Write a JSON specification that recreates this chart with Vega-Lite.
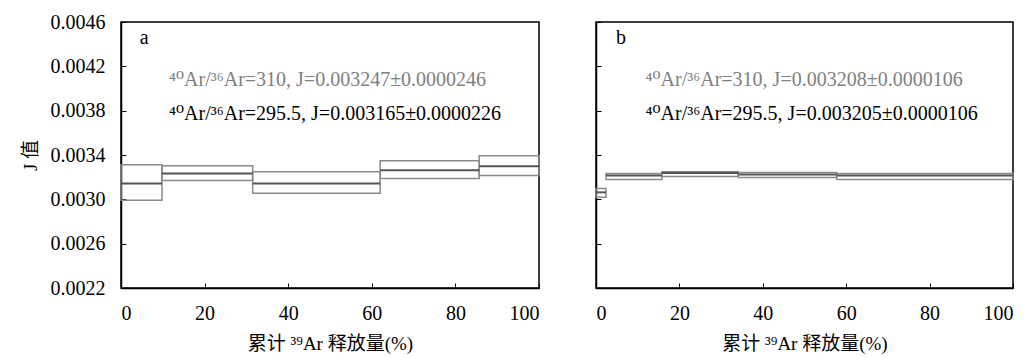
{
  "$schema": "https://vega.github.io/schema/vega-lite/v6.json",
  "background": "white",
  "padding": {"left": 20, "top": 11, "right": 12, "bottom": 3},
  "spacing": 53,
  "datasets": {
    "stepsA": [
      {"x0": 0, "x1": 9.8, "lo": 0.002991, "hi": 0.003313, "mid": 0.003143},
      {"x0": 9.8, "x1": 31.5, "lo": 0.00317, "hi": 0.003304, "mid": 0.003232},
      {"x0": 31.5, "x1": 62, "lo": 0.003054, "hi": 0.00325, "mid": 0.003143},
      {"x0": 62, "x1": 85.7, "lo": 0.003188, "hi": 0.003348, "mid": 0.003263},
      {"x0": 85.7, "x1": 100, "lo": 0.003214, "hi": 0.003393, "mid": 0.003299}
    ],
    "stepsB": [
      {"x0": 0, "x1": 2.4, "lo": 0.003018, "hi": 0.003098, "mid": 0.003063},
      {"x0": 2.4, "x1": 15.8, "lo": 0.003179, "hi": 0.003232, "mid": 0.003214},
      {"x0": 15.8, "x1": 34.1, "lo": 0.003205, "hi": 0.00325, "mid": 0.003237},
      {"x0": 34.1, "x1": 57.7, "lo": 0.003196, "hi": 0.003241, "mid": 0.003223},
      {"x0": 57.7, "x1": 100, "lo": 0.003179, "hi": 0.003232, "mid": 0.003214}
    ],
    "labelsA": [
      {"x": 4.5, "y": 0.004455, "text": "a", "series": "panel"},
      {"x": 11.5, "y": 0.004075, "text": "⁴⁰Ar/³⁶Ar=310, J=0.003247±0.0000246", "series": "310"},
      {"x": 11.5, "y": 0.003772, "text": "⁴⁰Ar/³⁶Ar=295.5, J=0.003165±0.0000226", "series": "295.5"}
    ],
    "labelsB": [
      {"x": 4.8, "y": 0.004455, "text": "b", "series": "panel"},
      {"x": 11.9, "y": 0.004075, "text": "⁴⁰Ar/³⁶Ar=310, J=0.003208±0.0000106", "series": "310"},
      {"x": 11.9, "y": 0.003772, "text": "⁴⁰Ar/³⁶Ar=295.5, J=0.003205±0.0000106", "series": "295.5"}
    ]
  },
  "config": {
    "view": {"stroke": "#000", "strokeWidth": 1.5},
    "axis": {
      "labelFont": "Liberation Serif, DejaVu Serif",
      "labelFontSize": 20,
      "labelColor": "#000",
      "titleFont": "Liberation Serif, DejaVu Serif, Noto Sans CJK SC",
      "titleFontSize": 19,
      "titleFontWeight": "normal",
      "titleColor": "#000",
      "domainColor": "#000",
      "domainWidth": 1.5,
      "tickColor": "#000",
      "tickWidth": 1,
      "tickSize": -5,
      "grid": false
    }
  },
  "hconcat": [
    {
      "width": 418,
      "height": 266,
      "layer": [
        {
          "data": {"name": "stepsA"},
          "mark": {"type": "rect", "fillOpacity": 0, "stroke": "#8a8a8a", "strokeWidth": 1.5},
          "encoding": {
            "x": {"field": "x0", "type": "quantitative", "scale": {"domain": [0, 100], "nice": false},
                  "axis": {"values": [0, 20, 40, 60, 80, 100], "title": "累计 ³⁹Ar 释放量(%)", "labelPadding": 20, "titlePadding": 11}},
            "x2": {"field": "x1"},
            "y": {"field": "lo", "type": "quantitative", "scale": {"domain": [0.0022, 0.0046], "nice": false, "zero": false},
                  "axis": {"values": [0.0022, 0.0026, 0.003, 0.0034, 0.0038, 0.0042, 0.0046], "format": ".4f", "title": "J 值", "labelPadding": 21, "titlePadding": 10}},
            "y2": {"field": "hi"}
          }
        },
        {
          "data": {"name": "stepsA"},
          "mark": {"type": "rule", "stroke": "#555", "strokeWidth": 2},
          "encoding": {
            "x": {"field": "x0", "type": "quantitative"},
            "x2": {"field": "x1"},
            "y": {"field": "mid", "type": "quantitative"}
          }
        },
        {
          "data": {"name": "labelsA"},
          "mark": {"type": "text", "align": "left", "baseline": "middle", "font": "Liberation Serif, DejaVu Serif", "fontSize": 20},
          "encoding": {
            "x": {"field": "x", "type": "quantitative"},
            "y": {"field": "y", "type": "quantitative"},
            "text": {"field": "text"},
            "color": {"field": "series", "type": "nominal", "scale": {"domain": ["panel", "310", "295.5"], "range": ["#000", "#808080", "#000"]}, "legend": null}
          }
        }
      ]
    },
    {
      "width": 417,
      "height": 266,
      "layer": [
        {
          "data": {"name": "stepsB"},
          "mark": {"type": "rect", "fillOpacity": 0, "stroke": "#8a8a8a", "strokeWidth": 1.5},
          "encoding": {
            "x": {"field": "x0", "type": "quantitative", "scale": {"domain": [0, 100], "nice": false},
                  "axis": {"values": [0, 20, 40, 60, 80, 100], "title": "累计 ³⁹Ar 释放量(%)", "labelPadding": 20, "titlePadding": 11}},
            "x2": {"field": "x1"},
            "y": {"field": "lo", "type": "quantitative", "scale": {"domain": [0.0022, 0.0046], "nice": false, "zero": false},
                  "axis": {"values": [0.0022, 0.0026, 0.003, 0.0034, 0.0038, 0.0042, 0.0046], "labels": false, "title": null}},
            "y2": {"field": "hi"}
          }
        },
        {
          "data": {"name": "stepsB"},
          "mark": {"type": "rule", "stroke": "#555", "strokeWidth": 2},
          "encoding": {
            "x": {"field": "x0", "type": "quantitative"},
            "x2": {"field": "x1"},
            "y": {"field": "mid", "type": "quantitative"}
          }
        },
        {
          "data": {"name": "labelsB"},
          "mark": {"type": "text", "align": "left", "baseline": "middle", "font": "Liberation Serif, DejaVu Serif", "fontSize": 20},
          "encoding": {
            "x": {"field": "x", "type": "quantitative"},
            "y": {"field": "y", "type": "quantitative"},
            "text": {"field": "text"},
            "color": {"field": "series", "type": "nominal", "scale": {"domain": ["panel", "310", "295.5"], "range": ["#000", "#808080", "#000"]}, "legend": null}
          }
        }
      ]
    }
  ]
}
